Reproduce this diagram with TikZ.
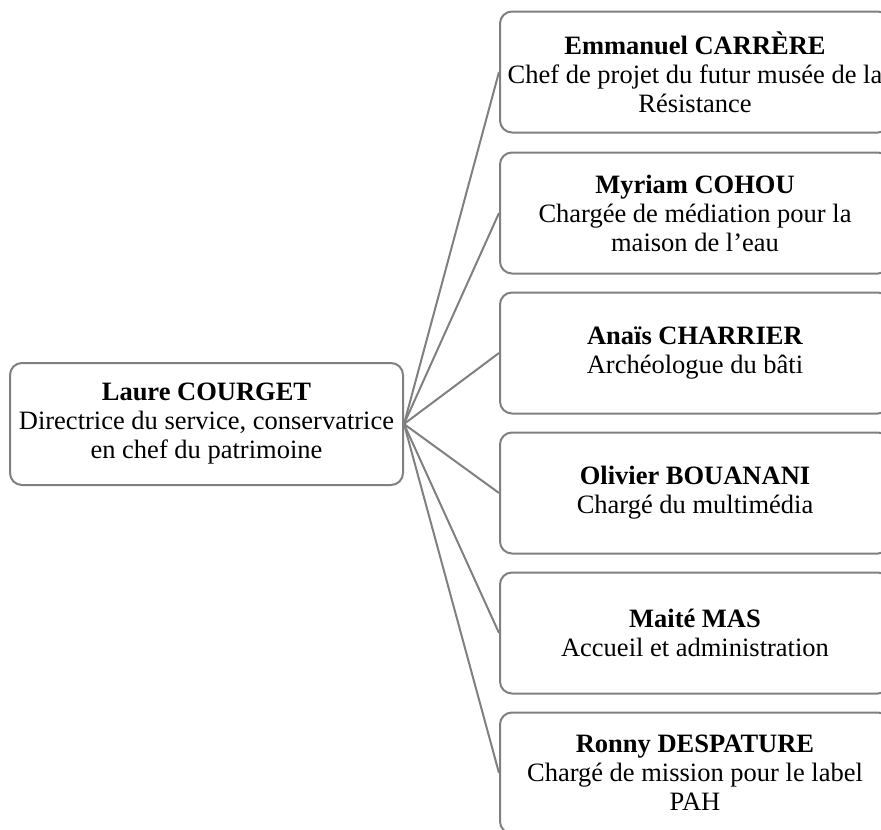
\documentclass[tikz,border=0pt]{standalone}
\usepackage{fontspec}
\setmainfont{Liberation Serif}
\begin{document}
\begin{tikzpicture}[x=1pt,y=-1pt,
  box/.style={draw=black!50, line width=2pt, rounded corners=12pt, fill=white,
    align=center, inner sep=0pt, font=\fontsize{26.5}{29}\selectfont},
  conn/.style={draw=black!50, line width=2pt}]
\useasboundingbox (0,0) rectangle (881,830);
\node[box, minimum width=393pt, minimum height=122pt] (L) at (206.5,424)
  {\textbf{Laure COURGET}\\Directrice du service, conservatrice\\en chef du patrimoine};
\node[box, minimum width=390pt, minimum height=121pt] (a) at (695,72)
  {\textbf{Emmanuel CARRÈRE}\\Chef de projet du futur musée de la\\Résistance};
\node[box, minimum width=390pt, minimum height=121pt] (b) at (695,213)
  {\textbf{Myriam COHOU}\\Chargée de médiation pour la\\maison de l'eau};
\node[box, minimum width=390pt, minimum height=121pt] (c) at (695,353)
  {\textbf{Anaïs CHARRIER}\\Archéologue du bâti};
\node[box, minimum width=390pt, minimum height=121pt] (d) at (695,493)
  {\textbf{Olivier BOUANANI}\\Chargé du multimédia};
\node[box, minimum width=390pt, minimum height=121pt] (e) at (695,633)
  {\textbf{Maité MAS}\\Accueil et administration};
\node[box, minimum width=390pt, minimum height=121pt] (f) at (695,773)
  {\textbf{Ronny DESPATURE}\\Chargé de mission pour le label\\PAH};
\foreach \n in {a,b,c,d,e,f} \draw[conn] (L.east) -- (\n.west);
\end{tikzpicture}
\end{document}
